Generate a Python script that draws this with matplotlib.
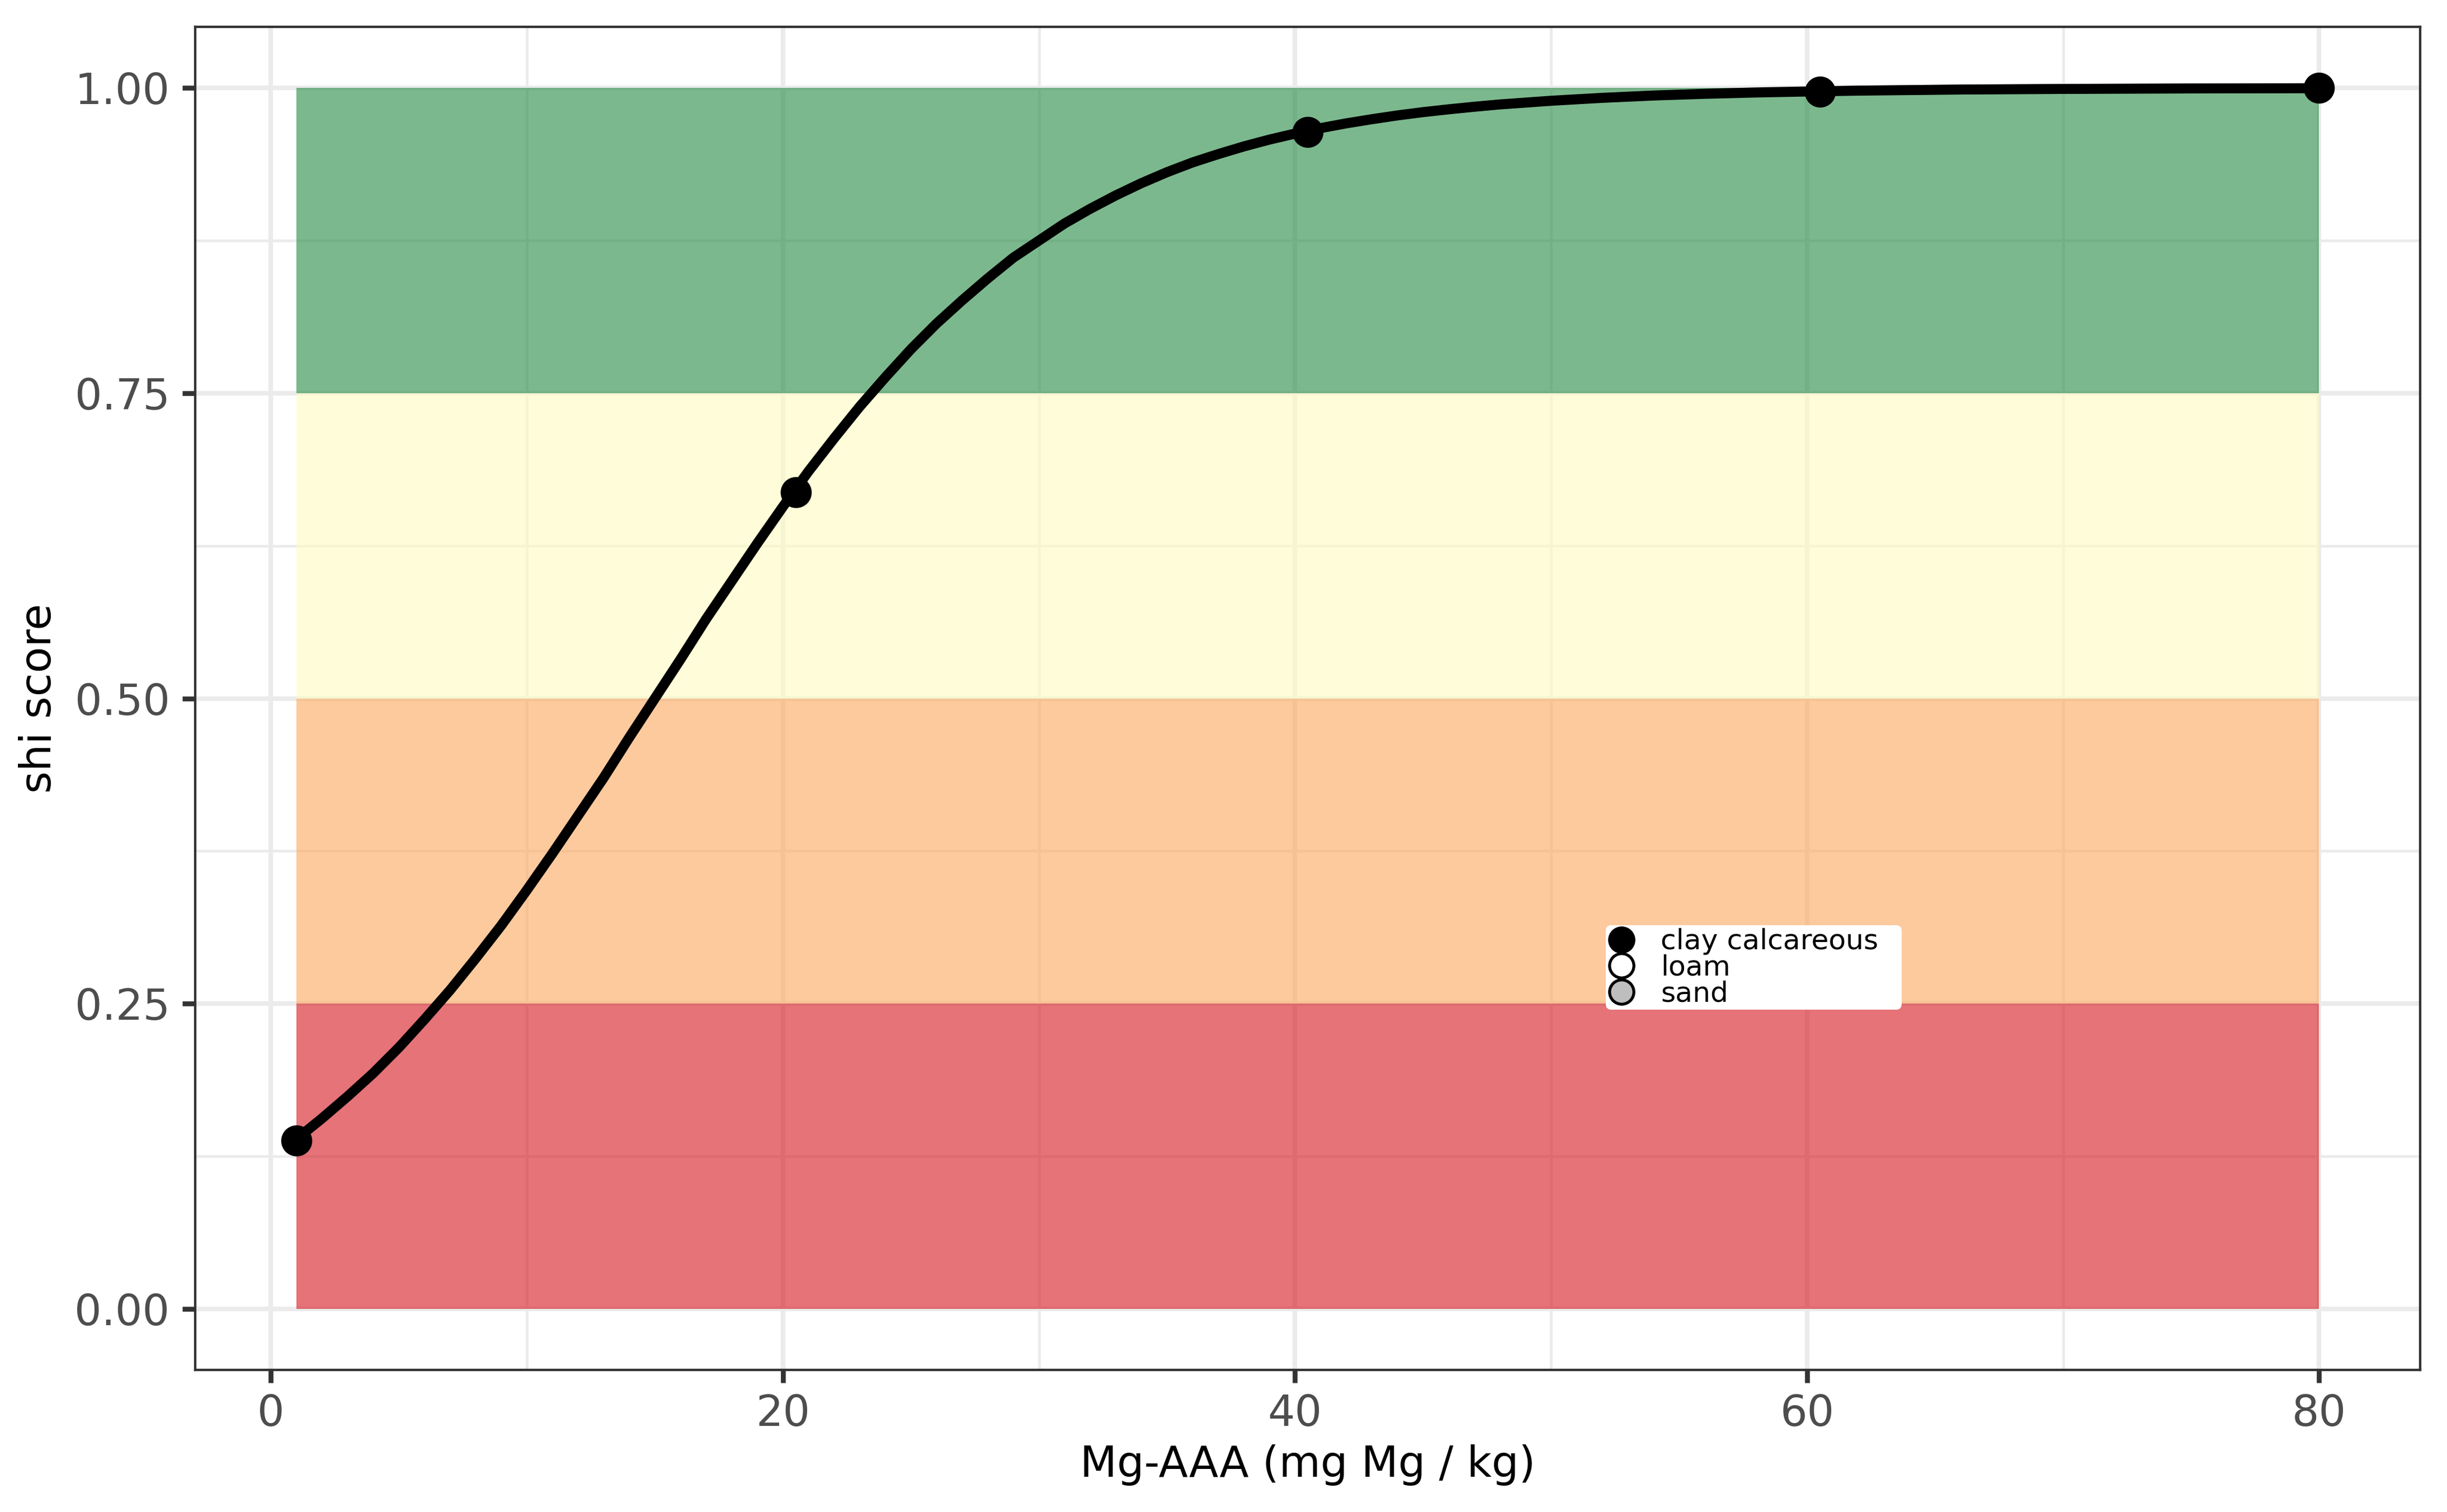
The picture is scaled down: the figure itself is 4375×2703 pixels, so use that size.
import numpy as np
import matplotlib
matplotlib.use("Agg")
from matplotlib import pyplot as plt
from matplotlib.lines import Line2D

# scored points (Mg-AAA, shi score)
pts_x = [1, 20.5, 40.5, 60.5, 80]
pts_y = [0.138, 0.669, 0.964, 0.997, 1.0]

# evaluation curve
curve_x = [1, 2, 3, 4, 5, 6, 7, 8, 9, 10, 11, 12, 13, 14, 15, 16, 17, 18, 19,
           20, 21, 22, 23, 24, 25, 26, 27, 28, 29, 30, 31, 32, 33, 34, 35, 36,
           37, 38, 39, 40, 41, 42, 43, 44, 45, 46, 47, 48, 50, 52, 54, 56, 58,
           60, 62, 66, 70, 75, 80]
curve_y = [0.139, 0.156, 0.174, 0.193, 0.214, 0.237, 0.261, 0.287, 0.314,
           0.343, 0.373, 0.404, 0.435, 0.468, 0.500, 0.532, 0.565, 0.596,
           0.627, 0.657, 0.686, 0.713, 0.739, 0.763, 0.786, 0.807, 0.826,
           0.844, 0.861, 0.875, 0.889, 0.901, 0.912, 0.922, 0.931, 0.939,
           0.9458, 0.9521, 0.9577, 0.9626, 0.9671, 0.9710, 0.9744, 0.9775,
           0.9802, 0.9825, 0.9846, 0.9865, 0.9895, 0.9919, 0.9938, 0.9952,
           0.9963, 0.9971, 0.9978, 0.9987, 0.9992, 0.9996, 0.9998]

# score classes
band_low = [0.0, 0.25, 0.50, 0.75]
band_high = [0.25, 0.50, 0.75, 1.0]
band_col = ['#d5161e', '#fca85d', '#fffdc1', '#258a43']

soil_names = ['clay calcareous', 'loam', 'sand']
soil_fill = ['black', 'white', '#bebebe']

x_ticks = [0, 20, 40, 60, 80]
y_ticks = [0.0, 0.25, 0.5, 0.75, 1.0]

plt.rcParams['font.family'] = ['DejaVu Sans']

fig = plt.figure(figsize=(7.0, 4.3248), dpi=625)
ax = fig.add_axes([0.0798, 0.094, 0.9093, 0.8882])

ax.set_axisbelow(True)
ax.grid(True, which='major', color='#ebebeb', linewidth=0.95)
ax.grid(True, which='minor', color='#ebebeb', linewidth=0.55)

x0, x1 = min(pts_x), max(pts_x)
for lo, hi, c in zip(band_low, band_high, band_col):
    ax.bar(x0, hi - lo, bottom=lo, width=x1 - x0, align='edge',
           color=c, alpha=0.6, linewidth=0, zorder=1)

ax.plot(curve_x, curve_y, color='black', linewidth=2.07, zorder=3,
        solid_joinstyle='round', solid_capstyle='butt')
ax.plot(pts_x, pts_y, 'o', color='black', markersize=5.4, zorder=4)

ax.set_xlim(-2.95, 83.95)
ax.set_ylim(-0.05, 1.05)
ax.set_xticks(x_ticks)
ax.set_xticks([10, 30, 50, 70], minor=True)
ax.set_yticks(y_ticks)
ax.set_yticks([0.125, 0.375, 0.625, 0.875], minor=True)
ax.set_yticklabels(['%.2f' % v for v in y_ticks])
ax.tick_params(which='major', length=2.65, width=1.0, color='#333333',
               labelcolor='#4d4d4d', labelsize=8.8)
ax.tick_params(axis='x', which='major', pad=2.2)
ax.tick_params(axis='y', which='major', pad=2.6)
ax.tick_params(which='minor', length=0)
for s in ax.spines.values():
    s.set_color('#333333')
    s.set_linewidth(0.5)

ax.set_xlabel('Mg-AAA (mg Mg / kg)', fontsize=8.8, labelpad=2)
ax.set_ylabel('shi score', fontsize=8.8, labelpad=3)

handles = [Line2D([], [], linestyle='none', marker='o', markersize=5.0,
                  markerfacecolor=f, markeredgecolor='black',
                  markeredgewidth=0.6) for f in soil_fill]
leg = ax.legend(handles, soil_names, loc='upper left',
                bbox_to_anchor=(0.634, 0.2686, 0.133, 0.0624), mode='expand',
                borderaxespad=0, fontsize=5.8, frameon=True, fancybox=True,
                facecolor='white', edgecolor='none', framealpha=1,
                borderpad=0.1, labelspacing=-0.03, handlelength=0.9,
                handletextpad=0.94)

fig.savefig('out.png', dpi=625)
